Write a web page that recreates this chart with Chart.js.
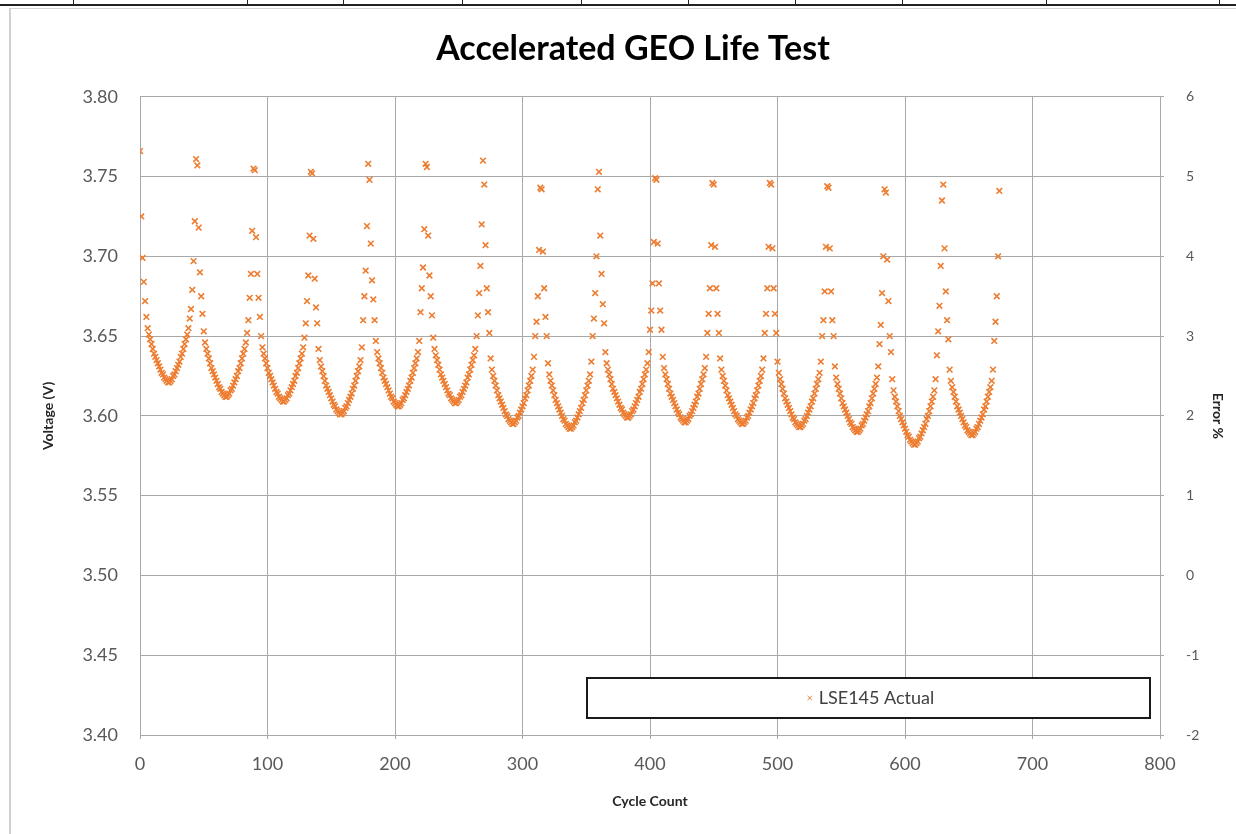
<!DOCTYPE html>
<html>
<head>
<meta charset="utf-8">
<script src="https://cdn.jsdelivr.net/npm/chart.js@4.4.1/dist/chart.umd.min.js"></script>
<style>
  html, body { margin: 0; padding: 0; background: #fff; }
  body { width: 1236px; height: 834px; position: relative; overflow: hidden; }
  #sheet-top { position: absolute; left: 0; top: 4px; width: 1236px; height: 2px; background: #222; }
  .col { position: absolute; top: 0; width: 1px; height: 5px; background: #222; }
  #frame-top { position: absolute; left: 9px; top: 8px; width: 1227px; height: 1px; background: #d4d4d4; }
  #frame-left { position: absolute; left: 9px; top: 8px; width: 2px; height: 826px; background: #d0d0d0; }
  #wrap { position: absolute; left: 0; top: 0; width: 1236px; height: 834px; }
</style>
</head>
<body>
<div id="sheet-top"></div>
<div id="frame-top"></div>
<div id="frame-left"></div>
<div id="wrap"><canvas id="chart" width="1236" height="834"></canvas></div>
<script>
// spreadsheet column borders above the chart
[73, 247, 343, 462, 581, 688, 795, 902, 1046, 1219].forEach(x => {
  const d = document.createElement('div');
  d.className = 'col';
  d.style.left = x + 'px';
  document.body.appendChild(d);
});

// first cycle of each 45-cycle season
const seasonStart = [0, 45, 90, 135, 180, 225, 270, 315, 360, 405, 450, 495, 540, 585, 630];

// voltage per cycle, one array per season (V)
const season01 = [3.766,3.725,3.699,3.684,3.672,3.662,3.655,3.651,3.648,3.645,3.642,3.639,3.637,3.635,3.633,3.631,3.629,3.627,3.626,3.624,3.623,3.622,3.621,3.621,3.622,3.623,3.625,3.626,3.628,3.630,3.632,3.634,3.637,3.639,3.642,3.645,3.648,3.651,3.655,3.661,3.667,3.679,3.697,3.722,3.761];
const season02 = [3.757,3.718,3.690,3.675,3.664,3.653,3.646,3.642,3.639,3.636,3.633,3.630,3.628,3.626,3.624,3.622,3.620,3.618,3.617,3.615,3.614,3.613,3.612,3.612,3.613,3.614,3.616,3.617,3.619,3.621,3.623,3.625,3.628,3.630,3.633,3.636,3.639,3.642,3.646,3.652,3.660,3.674,3.689,3.716,3.755];
const season03 = [3.754,3.712,3.689,3.674,3.662,3.650,3.643,3.639,3.636,3.633,3.630,3.627,3.625,3.623,3.621,3.619,3.617,3.615,3.614,3.612,3.611,3.610,3.609,3.609,3.610,3.611,3.613,3.614,3.616,3.618,3.620,3.622,3.625,3.627,3.630,3.633,3.636,3.639,3.643,3.649,3.658,3.672,3.688,3.713,3.753];
const season04 = [3.752,3.711,3.686,3.668,3.658,3.642,3.635,3.631,3.628,3.625,3.622,3.619,3.617,3.615,3.613,3.611,3.609,3.607,3.606,3.604,3.603,3.602,3.601,3.601,3.602,3.603,3.605,3.606,3.608,3.610,3.612,3.614,3.617,3.619,3.622,3.625,3.628,3.631,3.635,3.643,3.660,3.675,3.691,3.719,3.758];
const season05 = [3.748,3.708,3.685,3.673,3.660,3.647,3.640,3.636,3.633,3.630,3.627,3.624,3.622,3.620,3.618,3.616,3.614,3.612,3.611,3.609,3.608,3.607,3.606,3.606,3.607,3.608,3.610,3.611,3.613,3.615,3.617,3.619,3.622,3.624,3.627,3.630,3.633,3.636,3.640,3.647,3.665,3.680,3.693,3.717,3.758];
const season06 = [3.756,3.713,3.688,3.675,3.663,3.649,3.642,3.638,3.635,3.632,3.629,3.626,3.624,3.622,3.620,3.618,3.616,3.614,3.613,3.611,3.610,3.609,3.608,3.608,3.609,3.610,3.612,3.613,3.615,3.617,3.619,3.621,3.624,3.626,3.629,3.632,3.635,3.638,3.642,3.650,3.663,3.677,3.694,3.720,3.760];
const season07 = [3.745,3.707,3.680,3.665,3.652,3.636,3.629,3.625,3.622,3.619,3.616,3.613,3.611,3.609,3.607,3.605,3.603,3.601,3.600,3.598,3.597,3.596,3.595,3.595,3.596,3.597,3.599,3.600,3.602,3.604,3.606,3.608,3.611,3.613,3.616,3.619,3.622,3.625,3.629,3.637,3.650,3.659,3.675,3.704,3.743];
const season08 = [3.742,3.703,3.680,3.662,3.650,3.633,3.626,3.622,3.619,3.616,3.613,3.610,3.608,3.606,3.604,3.602,3.600,3.598,3.597,3.595,3.594,3.593,3.592,3.592,3.593,3.594,3.596,3.597,3.599,3.601,3.603,3.605,3.608,3.610,3.613,3.616,3.619,3.622,3.626,3.634,3.650,3.661,3.677,3.700,3.742];
const season09 = [3.753,3.713,3.689,3.670,3.658,3.640,3.633,3.629,3.626,3.623,3.620,3.617,3.615,3.613,3.611,3.609,3.607,3.605,3.604,3.602,3.601,3.600,3.599,3.599,3.600,3.601,3.603,3.604,3.606,3.608,3.610,3.612,3.615,3.617,3.620,3.623,3.626,3.629,3.633,3.640,3.654,3.666,3.683,3.709,3.749];
const season10 = [3.748,3.708,3.683,3.666,3.654,3.637,3.630,3.626,3.623,3.620,3.617,3.614,3.612,3.610,3.608,3.606,3.604,3.602,3.601,3.599,3.598,3.597,3.596,3.596,3.597,3.598,3.600,3.601,3.603,3.605,3.607,3.609,3.612,3.614,3.617,3.620,3.623,3.626,3.630,3.637,3.652,3.664,3.680,3.707,3.746];
const season11 = [3.745,3.706,3.680,3.664,3.652,3.636,3.629,3.625,3.622,3.619,3.616,3.613,3.611,3.609,3.607,3.605,3.603,3.601,3.600,3.598,3.597,3.596,3.595,3.595,3.596,3.597,3.599,3.600,3.602,3.604,3.606,3.608,3.611,3.613,3.616,3.619,3.622,3.625,3.629,3.636,3.652,3.664,3.680,3.706,3.746];
const season12 = [3.745,3.705,3.680,3.664,3.652,3.634,3.627,3.623,3.620,3.617,3.614,3.611,3.609,3.607,3.605,3.603,3.601,3.599,3.598,3.596,3.595,3.594,3.593,3.593,3.594,3.595,3.597,3.598,3.600,3.602,3.604,3.606,3.609,3.611,3.614,3.617,3.620,3.623,3.627,3.634,3.650,3.660,3.678,3.706,3.744];
const season13 = [3.743,3.705,3.678,3.660,3.650,3.631,3.624,3.620,3.617,3.614,3.611,3.608,3.606,3.604,3.602,3.600,3.598,3.596,3.595,3.593,3.592,3.591,3.590,3.590,3.591,3.592,3.594,3.595,3.597,3.599,3.601,3.603,3.606,3.608,3.611,3.614,3.617,3.620,3.624,3.631,3.645,3.657,3.677,3.700,3.742];
const season14 = [3.740,3.698,3.672,3.650,3.640,3.623,3.616,3.612,3.609,3.606,3.603,3.600,3.598,3.596,3.594,3.592,3.590,3.588,3.587,3.585,3.584,3.583,3.582,3.582,3.583,3.584,3.586,3.587,3.589,3.591,3.593,3.595,3.598,3.600,3.603,3.606,3.609,3.612,3.616,3.623,3.638,3.653,3.669,3.694,3.735];
const season15 = [3.745,3.705,3.678,3.660,3.648,3.629,3.622,3.618,3.615,3.612,3.609,3.606,3.604,3.602,3.600,3.598,3.596,3.594,3.593,3.591,3.590,3.589,3.588,3.588,3.589,3.590,3.592,3.593,3.595,3.597,3.599,3.601,3.604,3.606,3.609,3.612,3.615,3.618,3.622,3.629,3.647,3.659,3.675,3.700,3.741];

const seasons = [season01, season02, season03, season04, season05, season06, season07, season08,
                 season09, season10, season11, season12, season13, season14, season15];

// axis ticks
const xTicks = [0, 100, 200, 300, 400, 500, 600, 700, 800];
const voltTicks = [3.40, 3.45, 3.50, 3.55, 3.60, 3.65, 3.70, 3.75, 3.80];
const errTicks = [-2, -1, 0, 1, 2, 3, 4, 5, 6];

const points = [];
seasons.forEach((s, k) => {
  s.forEach((v, i) => points.push({ x: seasonStart[k] + i, y: v }));
});

const FONT = "Lato, 'Open Sans', sans-serif";
const ORANGE = '#ED7D31';
const GRID = '#a8a8a8';

// legend drawn as a boxed key inside the plot, like the spreadsheet original
const boxLegend = {
  id: 'boxLegend',
  afterDraw(chart) {
    const { ctx, chartArea } = chart;
    const ds = chart.data.datasets[0];
    const left = chartArea.left + 447, top = chartArea.bottom - 57;
    const w = 563, h = 40;
    ctx.save();
    ctx.fillStyle = '#fff';
    ctx.fillRect(left, top, w, h);
    ctx.strokeStyle = '#1a1a1a';
    ctx.lineWidth = 2;
    ctx.strokeRect(left, top, w, h);
    ctx.font = "18px " + FONT;
    ctx.fillStyle = '#404040';
    ctx.textBaseline = 'middle';
    const tw = ctx.measureText(ds.label).width;
    const tx = left + w / 2 - tw / 2 + 8;
    ctx.fillText(ds.label, tx, top + h / 2);
    ctx.strokeStyle = ORANGE;
    ctx.lineWidth = 1;
    Chart.helpers.drawPoint(ctx, { pointStyle: 'crossRot', radius: 3, borderWidth: 1 }, tx - 9, top + h / 2);
    ctx.restore();
  }
};

new Chart(document.getElementById('chart'), {
  type: 'scatter',
  data: {
    datasets: [{
      label: 'LSE145 Actual',
      data: points,
      yAxisID: 'y',
      pointStyle: 'crossRot',
      pointRadius: 4,
      pointBorderWidth: 1.6,
      borderColor: ORANGE,
      backgroundColor: ORANGE,
      showLine: false
    }]
  },
  options: {
    responsive: false,
    animation: false,
    events: [],
    layout: { padding: { left: 30, right: 0, top: 10, bottom: 0 } },
    plugins: {
      legend: { display: false },
      tooltip: { enabled: false },
      title: {
        display: true,
        text: 'Accelerated GEO Life Test',
        color: '#000',
        font: { family: FONT, size: 34, weight: 'bold' },
        padding: { top: 19, bottom: 27 }
      }
    },
    scales: {
      x: {
        type: 'linear',
        min: 0, max: 800,
        afterBuildTicks: s => { s.ticks = xTicks.map(v => ({ value: v })); },
        afterFit: s => { s.height = 99; },
        grid: { color: GRID, tickLength: 4, tickColor: GRID },
        border: { color: GRID },
        ticks: { color: '#595959', font: { family: FONT, size: 18 }, padding: 14 },
        title: { display: true, text: 'Cycle Count', color: '#262626',
                 font: { family: FONT, size: 14, weight: 'bold' }, padding: { bottom: 24 } }
      },
      y: {
        position: 'left',
        min: 3.40, max: 3.80,
        afterBuildTicks: s => { s.ticks = voltTicks.map(v => ({ value: v })); },
        afterFit: s => { s.width = 110; },
        grid: { color: GRID, drawTicks: false },
        border: { color: GRID },
        ticks: { color: '#595959', font: { family: FONT, size: 18 }, padding: 22,
                 callback: v => Number(v).toFixed(2) },
        title: { display: true, text: 'Voltage (V)', color: '#262626',
                 font: { family: FONT, size: 14, weight: 'bold' }, padding: { top: 10 } }
      },
      y2: {
        position: 'right',
        min: -2, max: 6,
        afterBuildTicks: s => { s.ticks = errTicks.map(v => ({ value: v })); },
        afterFit: s => { s.width = 76; },
        grid: { drawOnChartArea: false, color: GRID, tickLength: 4, tickColor: GRID },
        border: { color: GRID },
        ticks: { color: '#595959', font: { family: FONT, size: 14 }, padding: 22 },
        title: { display: true, text: 'Error %', color: '#262626',
                 font: { family: FONT, size: 14, weight: 'bold' }, padding: { top: 10 } }
      }
    }
  },
  plugins: [boxLegend]
});
</script>
</body>
</html>
